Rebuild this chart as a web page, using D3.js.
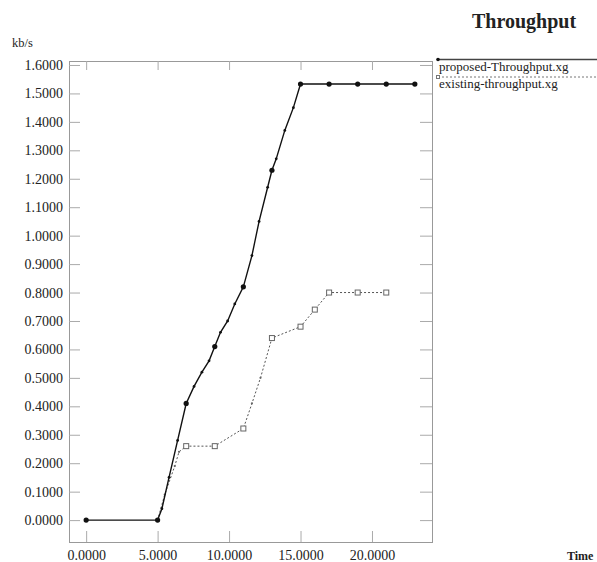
<!DOCTYPE html>
<html>
<head>
<meta charset="utf-8">
<script src="https://cdn.jsdelivr.net/npm/d3@7"></script>
<style>
  body { margin: 0; background: #fff; }
  svg text { font-family: "Liberation Serif", "DejaVu Serif", serif; fill: #222; }
</style>
</head>
<body>
<div id="chart"></div>
<script>
'use strict';

// values
var proposedX = [0, 5, 5.3, 5.8, 6.4, 7, 7.55, 8.1, 8.6, 9, 9.4, 9.9, 10.4, 11, 11.6, 12.1, 12.7, 13, 13.3, 13.9, 14.5, 15, 17, 19, 21, 23];
var proposedY = [0, 0, 0.04, 0.15, 0.28, 0.41, 0.47, 0.52, 0.56, 0.61, 0.66, 0.70, 0.76, 0.82, 0.93, 1.05, 1.17, 1.23, 1.27, 1.37, 1.45, 1.533, 1.533, 1.533, 1.533, 1.533];
var existingX = [5, 5.5, 6.2, 6.5, 7, 9, 11, 11.6, 12.2, 13, 15, 16, 17, 19, 21];
var existingY = [0, 0.09, 0.19, 0.24, 0.26, 0.26, 0.322, 0.41, 0.50, 0.64, 0.68, 0.74, 0.80, 0.80, 0.80];
var seriesNames = ['proposed-Throughput.xg', 'existing-throughput.xg'];
var yTicks = [0, 0.1, 0.2, 0.3, 0.4, 0.5, 0.6, 0.7, 0.8, 0.9, 1.0, 1.1, 1.2, 1.3, 1.4, 1.5, 1.6];
var xTicks = [0, 5, 10, 15, 20];

var width = 597, height = 562;
var frame = {left: 69, right: 432, top: 61, bottom: 542};

var svg = d3.select('#chart').append('svg')
    .attr('width', width)
    .attr('height', height);

var x = d3.scaleLinear().domain([-1.2, 24.2]).range([frame.left, frame.right]);
var y = d3.scaleLinear().domain([-0.077, 1.614]).range([frame.bottom, frame.top]);
var fmt = d3.format('.4f');

function zipped(xs, ys) {
  return xs.map(function(d, i) { return [d, ys[i]]; });
}
var proposed = zipped(proposedX, proposedY);
var existing = zipped(existingX, existingY);

// frame
svg.append('rect')
  .attr('x', frame.left + 0.5).attr('y', frame.top + 0.5)
  .attr('width', frame.right - frame.left).attr('height', frame.bottom - frame.top)
  .attr('fill', 'none').attr('stroke', '#999');

// axes, ticks pointing inward on all four sides
var yAxis = svg.append('g')
    .attr('transform', 'translate(' + frame.left + ',0)')
    .call(d3.axisLeft(y).tickValues(yTicks).tickFormat(fmt).tickSize(-11).tickPadding(6));
var xAxis = svg.append('g')
    .attr('transform', 'translate(0,' + frame.bottom + ')')
    .call(d3.axisBottom(x).tickValues(xTicks).tickFormat(fmt).tickSize(-11).tickPadding(8));
var topAxis = svg.append('g')
    .attr('transform', 'translate(0,' + frame.top + ')')
    .call(d3.axisTop(x).tickValues(xTicks).tickFormat('').tickSize(-9));
var rightAxis = svg.append('g')
    .attr('transform', 'translate(' + frame.right + ',0)')
    .call(d3.axisRight(y).tickValues(yTicks).tickFormat('').tickSize(-12));

[yAxis, xAxis, topAxis, rightAxis].forEach(function(a) {
  a.select('.domain').remove();
  a.selectAll('.tick line').attr('stroke', '#aaa');
  a.attr('font-size', null).attr('font-family', null);
  a.selectAll('text')
    .style('font-family', '"Liberation Serif", serif')
    .style('font-size', '14px')
    .attr('fill', '#222');
});

var line = d3.line()
  .x(function(d) { return x(d[0]); })
  .y(function(d) { return y(d[1]); });

// existing (dotted)
svg.append('path')
  .datum(existing)
  .attr('d', line)
  .attr('fill', 'none')
  .attr('stroke', '#555')
  .attr('stroke-width', 1)
  .attr('stroke-dasharray', '2,2');

svg.append('g').selectAll('rect')
  .data(existing.filter(function(d) { return d[0] % 1 === 0 && d[0] > 5; }))
  .enter().append('rect')
  .attr('x', function(d) { return x(d[0]) - 2.5; })
  .attr('y', function(d) { return y(d[1]) - 2.5; })
  .attr('width', 5).attr('height', 5)
  .attr('fill', '#fff').attr('stroke', '#666');

svg.append('g').selectAll('circle')
  .data(existing.filter(function(d) { return d[0] % 1 !== 0; }))
  .enter().append('circle')
  .attr('cx', function(d) { return x(d[0]); })
  .attr('cy', function(d) { return y(d[1]); })
  .attr('r', 1.1)
  .attr('fill', '#666');

// proposed (solid)
svg.append('path')
  .datum(proposed)
  .attr('d', line)
  .attr('fill', 'none')
  .attr('stroke', '#111')
  .attr('stroke-width', 1.4);

svg.append('g').selectAll('circle')
  .data(proposed)
  .enter().append('circle')
  .attr('cx', function(d) { return x(d[0]); })
  .attr('cy', function(d) { return y(d[1]); })
  .attr('r', function(d) { return d[0] % 1 === 0 ? 2.6 : 1.4; })
  .attr('fill', '#111');

// titles
svg.append('text')
  .attr('x', 472).attr('y', 28)
  .style('font-size', '20px').style('font-weight', 'bold')
  .text('Throughput');
svg.append('text')
  .attr('x', 12).attr('y', 47)
  .style('font-size', '12.5px')
  .text('kb/s');
svg.append('text')
  .attr('x', 567).attr('y', 560)
  .style('font-size', '12px').style('font-weight', 'bold')
  .text('Time');

// legend
var legend = svg.append('g');
legend.append('line')
  .attr('x1', 438).attr('x2', width)
  .attr('y1', 59.5).attr('y2', 59.5)
  .attr('stroke', '#444').attr('stroke-width', 1.6);
legend.append('circle')
  .attr('cx', 438).attr('cy', 59.5).attr('r', 1.8).attr('fill', '#111');
legend.append('line')
  .attr('x1', 438).attr('x2', width)
  .attr('y1', 77).attr('y2', 77)
  .attr('stroke', '#777').attr('stroke-dasharray', '2,2');
legend.append('rect')
  .attr('x', 436.5).attr('y', 75.5).attr('width', 3).attr('height', 3)
  .attr('fill', '#fff').attr('stroke', '#777');
legend.selectAll('text.name')
  .data(seriesNames)
  .enter().append('text')
  .attr('class', 'name')
  .attr('x', 439)
  .attr('y', function(d, i) { return 71 + i * 16.5; })
  .style('font-size', '13px')
  .text(function(d) { return d; });
</script>
</body>
</html>
